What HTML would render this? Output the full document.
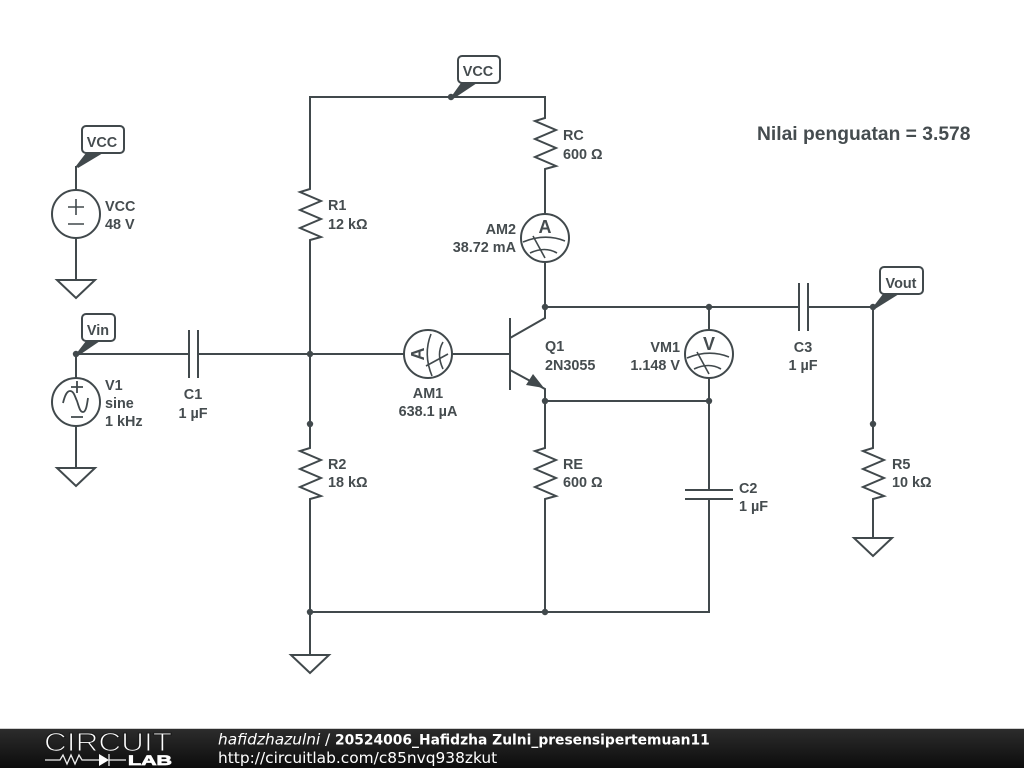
<!DOCTYPE html>
<html>
<head>
<meta charset="utf-8">
<style>
html,body{margin:0;padding:0;background:#fff;width:1024px;height:768px;overflow:hidden}
svg{display:block}
.w{fill:none;stroke:#41494c;stroke-width:2;stroke-linejoin:miter}
.t{font:bold 14.4px "Liberation Sans",sans-serif;fill:#454c4f}
.f{font:bold 14.4px "Liberation Sans",sans-serif;fill:#454c4f;text-anchor:middle}
.m{text-anchor:middle}
.e{text-anchor:end}
.d{fill:#41494c}
.b{font:15.4px "DejaVu Sans",sans-serif;fill:#fff}
.i{font:italic 15.4px "DejaVu Sans",sans-serif;fill:#fff}
</style>
</head>
<body>
<svg width="1024" height="768" viewBox="0 0 1024 768" xmlns="http://www.w3.org/2000/svg">
<defs>
<linearGradient id="g" x1="0" y1="0" x2="0" y2="1"><stop offset="0" stop-color="#2c2c2c"/><stop offset="1" stop-color="#0c0c0c"/></linearGradient>
<g id="meter">
<circle class="w" cx="0" cy="0" r="24"/>
<path fill="none" stroke="#41494c" stroke-width="1.6" d="M-22,4 Q0,-5 20,3 M-15,15 Q0,8 12,15 M-12,-2 L0,20"/>
</g>
<path id="z" class="w" d="M0,0 L0,3 L-10,6 L11,15 L-10,24 L11,33 L-10,42 L11,51 L0,54 L0,56"/>
<path id="gnd" class="w" d="M-19,0 H19 L0,18 Z"/>
</defs>

<!-- wires -->
<path class="w" d="M310,186 V97 H545 V115 M545,171 V214 M545,262 V318 L510,338 M510,318 V390 M452,354 H510 M510,370 L545,389 V445 M545,500 V612 M545,307 H799 M808,307 H873 V445 M873,500 V538 M709,307 V330 M709,378 V490 M709,499 V612 H310 M545,401 H709"/>
<path class="w" d="M76,166 V190 M76,238 V280 M76,354 V378 M76,426 V467 M76,354 H189 M198,354 H404 M310,240 V445 M310,500 V655"/>
<!-- capacitor plates -->
<path class="w" d="M189,330 V378 M198,330 V378 M799,283 V331 M808,283 V331 M685,490 H733 M685,499 H733"/>
<!-- resistors -->
<use href="#z" x="545" y="115"/>
<use href="#z" x="310" y="186"/>
<use href="#z" x="310" y="445"/>
<use href="#z" x="545" y="445"/>
<use href="#z" x="873" y="445"/>
<!-- grounds -->
<use href="#gnd" x="76" y="280"/>
<use href="#gnd" x="76" y="468"/>
<use href="#gnd" x="310" y="655"/>
<use href="#gnd" x="873" y="538"/>
<!-- transistor arrowhead -->
<path class="d" d="M544,388 L526,385 L533,374 Z"/>
<!-- junctions -->
<g class="d">
<circle cx="76" cy="354" r="3.2"/><circle cx="451" cy="97" r="3.2"/><circle cx="873" cy="307" r="3.2"/>
<circle cx="310" cy="354" r="3.2"/><circle cx="310" cy="424" r="3.2"/><circle cx="310" cy="612" r="3.2"/>
<circle cx="545" cy="307" r="3.2"/><circle cx="545" cy="401" r="3.2"/><circle cx="545" cy="612" r="3.2"/>
<circle cx="709" cy="307" r="3.2"/><circle cx="709" cy="401" r="3.2"/><circle cx="873" cy="424" r="3.2"/>
</g>
<!-- sources -->
<circle class="w" cx="76" cy="214" r="24"/>
<path fill="none" stroke="#41494c" stroke-width="1.6" d="M68,207 H84 M76,199 V215 M68,224 H84"/>
<circle class="w" cx="76" cy="402" r="24"/>
<path fill="none" stroke="#41494c" stroke-width="1.8" d="M71,387 H83 M77,381 V393 M71,417 H83 M63,403 C65,395 67,391 70,391 C74,391 75,397 77,401 C79,407 80,412 83,412 C86,412 87,405 88,398"/>
<!-- meters -->
<use href="#meter" x="545" y="238"/>
<use href="#meter" x="709" y="354"/>
<use href="#meter" transform="translate(428,354) rotate(-90)"/>
<text x="545" y="233" class="f" style="font-size:18px">A</text>
<text x="709" y="350" class="f" style="font-size:18px">V</text>
<text class="f" style="font-size:18px" transform="translate(424,354) rotate(-90)">A</text>
<!-- flags -->
<path class="d" d="M76,166 L86,153 H103 L78,168 Z"/>
<path class="d" d="M76,354 L86,341 H100 L78,356 Z"/>
<path class="d" d="M451,97 L461,83 H477 L453,99 Z"/>
<path class="d" d="M873,307 L883,294 H899 L875,309 Z"/>
<rect x="82" y="126" width="42" height="27" rx="4" fill="#fff" stroke="#41494c" stroke-width="2"/>
<rect x="82" y="314" width="33" height="27" rx="4" fill="#fff" stroke="#41494c" stroke-width="2"/>
<rect x="458" y="56" width="42" height="27" rx="4" fill="#fff" stroke="#41494c" stroke-width="2"/>
<rect x="880" y="267" width="43" height="27" rx="4" fill="#fff" stroke="#41494c" stroke-width="2"/>
<text x="102" y="147" class="f">VCC</text>
<text x="98" y="335" class="f">Vin</text>
<text x="478" y="76" class="f">VCC</text>
<text x="901" y="288" class="f">Vout</text>
<!-- labels -->
<text x="105" y="211" class="t">VCC</text><text x="105" y="229" class="t">48 V</text>
<text x="105" y="390" class="t">V1</text><text x="105" y="408" class="t">sine</text><text x="105" y="426" class="t">1 kHz</text>
<text x="193" y="399" class="t m">C1</text><text x="193" y="418" class="t m">1 µF</text>
<text x="328" y="210" class="t">R1</text><text x="328" y="229" class="t">12 kΩ</text>
<text x="328" y="469" class="t">R2</text><text x="328" y="487" class="t">18 kΩ</text>
<text x="563" y="140" class="t">RC</text><text x="563" y="159" class="t">600 Ω</text>
<text x="563" y="469" class="t">RE</text><text x="563" y="487" class="t">600 Ω</text>
<text x="516" y="234" class="t e">AM2</text><text x="516" y="252" class="t e">38.72 mA</text>
<text x="428" y="398" class="t m">AM1</text><text x="428" y="416" class="t m">638.1 µA</text>
<text x="545" y="351" class="t">Q1</text><text x="545" y="370" class="t">2N3055</text>
<text x="680" y="352" class="t e">VM1</text><text x="680" y="370" class="t e">1.148 V</text>
<text x="803" y="352" class="t m">C3</text><text x="803" y="370" class="t m">1 µF</text>
<text x="739" y="493" class="t">C2</text><text x="739" y="511" class="t">1 µF</text>
<text x="892" y="469" class="t">R5</text><text x="892" y="487" class="t">10 kΩ</text>
<text x="757" y="140" style="font:bold 19.25px 'Liberation Sans',sans-serif;fill:#454c4f">Nilai penguatan = 3.578</text>
<!-- footer -->
<rect x="0" y="729" width="1024" height="39" fill="url(#g)"/>
<rect x="0" y="728" width="1024" height="1" fill="#cfcfcf"/>
<text x="44" y="751" textLength="128" lengthAdjust="spacingAndGlyphs" style="font:26px 'Liberation Sans',sans-serif;fill:#fff;stroke:#1c1c1c;stroke-width:1.1">CIRCUIT</text>
<path fill="none" stroke="#eee" stroke-width="1.3" d="M45,760 H60 L63,755 L67,764 L71,755 L75,764 L79,755 L82,760 H99 M109,754 V766 M109,760 H126"/>
<path fill="#fff" d="M99,754 L109,760 L99,766 Z"/>
<text x="128" y="765" textLength="44" lengthAdjust="spacingAndGlyphs" style="font:bold 14px 'Liberation Sans',sans-serif;fill:#fff;stroke:#fff;stroke-width:.7">LAB</text>
<text x="218" y="744.5" class="i">hafidzhazulni</text>
<text x="325" y="744.5" class="b">/</text>
<text x="335" y="744.5" style="font:bold 13.85px 'DejaVu Sans',sans-serif;fill:#fff">20524006_Hafidzha Zulni_presensipertemuan11</text>
<text x="218" y="763" class="b">http://circuitlab.com/c85nvq938zkut</text>
</svg>
</body>
</html>
